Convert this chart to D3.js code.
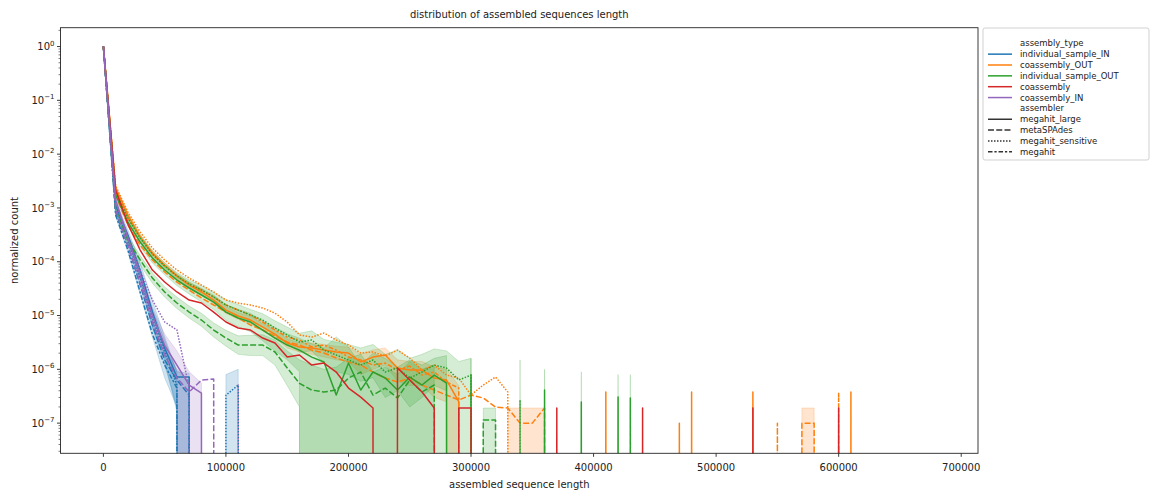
<!DOCTYPE html>
<html>
<head>
<meta charset="utf-8">
<script src="https://cdn.jsdelivr.net/npm/d3@7"></script>
<style>
  body { margin: 0; background: #fff; }
  text { font-family: "DejaVu Sans", sans-serif; fill: #222; }
</style>
</head>
<body>
<svg id="chart" width="1152" height="491"></svg>
<script>
// Length bins (start of each 10 kb bin, in kb)
const binStartKb = [0,10,20,30,40,50,60,70,80,90,100,110,120,130,140,150,160,170,180,190,
  200,210,220,230,240,250,260,270,280,290,300,310,320,330,340,350,360,370,380,390,
  400,410,420,430,440,450,460,470,480,490,500,510,520,530,540,550,560,570,580,590,
  600,610,620,630,640,650,660,670,680,690,700];

const assemblyTypes = ["individual_sample_IN", "coassembly_OUT", "individual_sample_OUT", "coassembly", "coassembly_IN"];
const assemblers = ["megahit_large", "metaSPAdes", "megahit_sensitive", "megahit"];

const xTickValues = [0, 100000, 200000, 300000, 400000, 500000, 600000, 700000];
const yTickExponents = [0, -1, -2, -3, -4, -5, -6, -7];

// normalized counts per bin (0 = no sequences in that bin)
// individual_sample_IN
const blueLarge   = [1, 1.13e-3, 3.13e-4, 7.0e-5, 1.16e-5, 2.49e-6, 7.2e-7, 7.2e-7, 0];
const blueLargeLo = [1, 9.6e-4, 2.5e-4, 5.0e-5, 6.0e-6, 1.5e-6, 1.6e-7, 0, 0];
const blueLargeHi = [1, 1.3e-3, 3.9e-4, 9.5e-5, 1.9e-5, 4.0e-6, 9.0e-7, 8.5e-7, 0];
const blueMeta    = [1, 8.4e-4, 2.0e-4, 3.7e-5, 6.7e-6, 1.5e-6, 6.3e-7, 3.3e-7, 0];
const blueMetaLo  = [1, 7.0e-4, 1.5e-4, 2.5e-5, 4.0e-6, 7.0e-7, 2.0e-7, 0, 0];
const blueMetaHi  = [1, 1.0e-3, 2.6e-4, 5.0e-5, 1.0e-5, 2.5e-6, 1.0e-6, 6.0e-7, 0];
const blueSens    = [1, 1.0e-3, 2.5e-4, 5.0e-5, 9.0e-6, 2.1e-6, 5.1e-7, 0, 0, 0, 3.3e-7, 5.1e-7, 0];
const blueSensLo  = [1, 8.5e-4, 2.0e-4, 3.8e-5, 6.0e-6, 1.2e-6, 2.0e-7, 0, 0, 0, 0, 0, 0];
const blueSensHi  = [1, 1.2e-3, 3.1e-4, 6.5e-5, 1.3e-5, 3.5e-6, 9.0e-7, 0, 0, 0, 8.0e-7, 1.0e-6, 0];
const blueMh      = [1, 7.4e-4, 1.65e-4, 2.7e-5, 4.5e-6, 1.2e-6, 4.5e-7, 0];

// coassembly_OUT
const orangeLarge = [1, 2.34e-3, 7.38e-4, 2.88e-4, 1.45e-4, 8.68e-5, 5.42e-5, 3.69e-5, 2.74e-5, 1.94e-5,
  1.26e-5, 9.79e-6, 8.25e-6, 6.11e-6, 4.53e-6, 3.08e-6, 2.60e-6, 2.49e-6, 2.28e-6, 2.10e-6,
  2.01e-6, 1.37e-6, 1.69e-6, 1.85e-6, 1.06e-6, 9.71e-7, 9.71e-7, 6.89e-7, 6.32e-7, 2.5e-7,
  0, 0, 0, 0, 0, 0, 0, 0, 0, 0,
  0, 3.79e-7, 0, 0, 0, 0, 0, 0, 3.79e-7, 0,
  0, 0, 0, 3.79e-7, 0, 0, 0, 0, 0, 0,
  0, 3.79e-7, 0];
const orangeLargeLo = [1, 2.1e-3, 6.6e-4, 2.6e-4, 1.3e-4, 7.8e-5, 4.8e-5, 3.3e-5, 2.4e-5, 1.7e-5,
  1.1e-5, 8.5e-6, 7.0e-6, 5.2e-6, 3.8e-6, 2.5e-6, 2.1e-6, 1.9e-6, 1.7e-6, 1.5e-6,
  1.4e-6, 8.0e-7, 1.0e-6, 1.2e-6, 6.0e-7, 5.0e-7, 5.0e-7, 3.0e-7, 2.5e-7, 0, 0];
const orangeLargeHi = [1, 2.6e-3, 8.2e-4, 3.2e-4, 1.6e-4, 9.6e-5, 6.0e-5, 4.1e-5, 3.1e-5, 2.2e-5,
  1.45e-5, 1.13e-5, 9.6e-6, 7.1e-6, 5.3e-6, 3.7e-6, 3.1e-6, 3.1e-6, 2.9e-6, 2.7e-6,
  2.6e-6, 1.9e-6, 2.3e-6, 2.5e-6, 1.5e-6, 1.4e-6, 1.4e-6, 1.1e-6, 1.0e-6, 5.0e-7, 0];
const orangeMeta = [1, 1.74e-3, 4.81e-4, 2.04e-4, 1.08e-4, 6.44e-5, 4.19e-5, 2.98e-5, 2.12e-5, 1.57e-5,
  1.16e-5, 8.99e-6, 6.66e-6, 5.38e-6, 4.16e-6, 3.22e-6, 2.83e-6, 2.28e-6, 2.01e-6, 1.62e-6,
  1.37e-6, 1.20e-6, 8.91e-7, 6.89e-7, 5.80e-7, 6.89e-7, 5.11e-7, 4.12e-7, 3.33e-7, 2.69e-7,
  3.33e-7, 2.93e-7, 1.99e-7, 1.91e-7, 1.0e-7, 1.0e-7, 1.91e-7, 0, 0, 0,
  0, 0, 0, 0, 0, 0, 0, 1.0e-7, 0, 0,
  0, 0, 0, 0, 0, 1.0e-7, 0, 1.0e-7, 1.0e-7, 0];
// orange metaSPAdes bands beginning at bin 32 (320 kb) and bin 56 (560 kb)
const orangeMetaBandA = { start: 32, lo: [0, 0, 0, 0, 0, 0], hi: [0, 1.91e-7, 1.91e-7, 1.91e-7, 1.91e-7, 0] };
const orangeMetaBandB = { start: 56, lo: [0, 0, 0, 0], hi: [0, 1.91e-7, 1.91e-7, 0] };
const orangeSens = [1, 2.55e-3, 8.39e-4, 3.56e-4, 1.80e-4, 1.08e-4, 7.01e-5, 4.98e-5, 3.69e-5, 2.74e-5,
  1.94e-5, 1.71e-5, 1.57e-5, 1.38e-5, 1.11e-5, 7.57e-6, 4.34e-6, 3.98e-6, 4.73e-6, 3.51e-6,
  2.83e-6, 2.01e-6, 2.10e-6, 1.77e-6, 2.28e-6, 1.62e-6, 9.71e-7, 1.20e-6, 7.83e-7, 6.89e-7,
  3.33e-7, 5.11e-7, 7.19e-7, 3.79e-7, 0];
const orangeMh = [1, 2.15e-3, 6.49e-4, 2.88e-4, 1.39e-4, 8.32e-5, 5.42e-5, 3.85e-5, 2.98e-5, 2.21e-5,
  1.57e-5, 1.26e-5, 1.02e-5, 7.57e-6, 5.38e-6, 3.98e-6, 3.51e-6, 2.60e-6, 2.83e-6, 2.28e-6,
  1.69e-6, 1.49e-6, 1.20e-6, 1.31e-6, 9.71e-7, 1.15e-6, 7.83e-7, 8.91e-7, 5.80e-7, 4.49e-7,
  0, 0, 0, 0, 0, 0, 0, 0, 0, 0,
  0, 0, 0, 0, 0, 0, 0, 0, 0, 0,
  0, 0, 0, 0, 0, 0, 0, 0, 0, 0,
  3.79e-7, 0];

// individual_sample_OUT
const greenLarge = [1, 1.74e-3, 5.47e-4, 2.32e-4, 1.17e-4, 7.01e-5, 4.57e-5, 3.25e-5, 2.41e-5, 1.78e-5,
  1.16e-5, 8.99e-6, 7.57e-6, 5.38e-6, 3.82e-6, 2.83e-6, 2.28e-6, 1.69e-6, 1.37e-6, 3.33e-7,
  1.31e-6, 4.12e-7, 8.91e-7, 6.89e-7, 4.12e-7, 7.19e-7, 5.11e-7, 7.83e-7, 5.56e-7, 0,
  7.83e-7, 0, 0, 0, 0, 0, 4.12e-7, 0, 0, 2.47e-7,
  0, 0, 3.05e-7, 0];
const greenLargeLo = [1, 1.5e-3, 4.6e-4, 1.9e-4, 9.5e-5, 5.7e-5, 3.6e-5, 2.5e-5, 1.8e-5, 1.3e-5,
  8.2e-6, 6.2e-6, 5.0e-6, 3.4e-6, 2.2e-6, 1.5e-6, 9.0e-7, 0, 0, 0,
  0, 0, 0, 0, 0, 0, 0, 0, 0, 0,
  0, 0, 0, 0, 0, 0, 0, 0, 0, 0,
  0, 0, 0, 0];
const greenLargeHi = [1, 2.0e-3, 6.5e-4, 2.9e-4, 1.45e-4, 8.7e-5, 5.8e-5, 4.2e-5, 3.2e-5, 2.4e-5,
  1.6e-5, 1.3e-5, 1.1e-5, 8.0e-6, 6.0e-6, 4.6e-6, 3.8e-6, 3.0e-6, 2.5e-6, 4.0e-6,
  2.6e-6, 1.2e-6, 2.0e-6, 1.6e-6, 1.1e-6, 1.5e-6, 1.2e-6, 1.6e-6, 1.8e-6, 0,
  1.6e-6, 0, 0, 0, 0, 0, 1.0e-6, 0, 0, 9.0e-7,
  0, 0, 8.0e-7, 0];
const greenMeta = [1, 9.14e-4, 2.53e-4, 1.08e-4, 4.98e-5, 2.74e-5, 1.71e-5, 1.16e-5, 8.25e-6, 5.38e-6,
  3.82e-6, 2.83e-6, 2.83e-6, 2.83e-6, 2.10e-6, 1.06e-6, 5.5e-7, 4.12e-7, 3.79e-7, 4.12e-7,
  6.89e-7, 8.91e-7, 3.33e-7, 4.49e-7, 2.93e-7, 6.32e-7, 3.79e-7, 5.11e-7, 0, 0,
  0, 1.14e-7, 1.14e-7, 0, 0, 0, 0, 0, 0, 0,
  0, 0, 0, 2.93e-7, 0];
const greenMetaLo = [1, 7.8e-4, 2.1e-4, 8.8e-5, 4.0e-5, 2.2e-5, 1.35e-5, 9.0e-6, 6.3e-6, 4.0e-6,
  2.7e-6, 1.9e-6, 1.8e-6, 1.8e-6, 1.2e-6, 5.0e-7, 2.0e-7, 0, 0, 0,
  0, 0, 0, 0, 0, 0, 0, 0, 0, 0,
  0, 0, 0, 0, 0, 0, 0, 0, 0, 0,
  0, 0, 0, 0, 0];
const greenMetaHi = [1, 1.07e-3, 3.0e-4, 1.3e-4, 6.2e-5, 3.4e-5, 2.2e-5, 1.5e-5, 1.1e-5, 7.3e-6,
  5.3e-6, 4.2e-6, 4.3e-6, 4.4e-6, 3.5e-6, 2.2e-6, 1.5e-6, 1.2e-6, 1.0e-6, 1.1e-6,
  1.6e-6, 1.9e-6, 9.0e-7, 1.1e-6, 8.0e-7, 1.4e-6, 1.0e-6, 1.2e-6, 0, 0,
  0, 1.91e-7, 1.91e-7, 0, 0, 0, 0, 0, 0, 0,
  0, 0, 0, 8.0e-7, 0];
const greenSens = [1, 1.98e-3, 6.49e-4, 2.76e-4, 1.39e-4, 8.32e-5, 5.42e-5, 3.85e-5, 2.98e-5, 2.21e-5,
  1.57e-5, 1.26e-5, 1.02e-5, 8.25e-6, 5.86e-6, 4.34e-6, 3.22e-6, 3.51e-6, 2.28e-6, 1.85e-6,
  1.49e-6, 1.20e-6, 1.49e-6, 8.91e-7, 1.06e-6, 6.89e-7, 8.91e-7, 1.20e-6, 1.06e-6, 6.32e-7,
  7.83e-7, 0, 0, 0, 2.69e-7, 0];
const greenSensLo = [1, 1.8e-3, 5.7e-4, 2.4e-4, 1.2e-4, 7.2e-5, 4.6e-5, 3.2e-5, 2.4e-5, 1.8e-5,
  1.25e-5, 9.8e-6, 7.8e-6, 6.2e-6, 4.2e-6, 3.0e-6, 2.1e-6, 2.2e-6, 1.3e-6, 9.0e-7,
  8.0e-7, 6.0e-7, 7.0e-7, 3.0e-7, 4.0e-7, 2.0e-7, 3.0e-7, 5.0e-7, 4.0e-7, 0,
  0, 0, 0, 0, 0, 0];
const greenSensHi = [1, 2.2e-3, 7.4e-4, 3.2e-4, 1.6e-4, 9.6e-5, 6.3e-5, 4.6e-5, 3.6e-5, 2.7e-5,
  1.95e-5, 1.6e-5, 1.3e-5, 1.08e-5, 8.0e-6, 6.1e-6, 4.7e-6, 5.2e-6, 3.6e-6, 3.2e-6,
  2.9e-6, 2.5e-6, 2.9e-6, 1.9e-6, 2.3e-6, 1.6e-6, 1.9e-6, 2.4e-6, 2.2e-6, 1.4e-6,
  1.6e-6, 0, 0, 0, 1.5e-6, 0];

// coassembly
const redLarge = [1, 2.15e-3, 5.0e-4, 1.65e-4, 7.0e-5, 4.2e-5, 2.74e-5, 1.94e-5, 1.71e-5, 1.16e-5,
  7.57e-6, 5.86e-6, 5.38e-6, 3.82e-6, 3.08e-6, 1.69e-6, 1.85e-6, 1.20e-6, 1.31e-6, 8.91e-7,
  4.49e-7, 3.05e-7, 1.91e-7, 0, 1.06e-6, 6.32e-7, 3.79e-7, 1.91e-7, 0, 1.91e-7,
  1.91e-7, 0, 0, 0, 0, 0, 0, 1.91e-7, 0, 0,
  0, 0, 0, 0, 1.91e-7, 0, 0, 0, 0, 0,
  0, 0, 0, 1.91e-7, 0, 0, 0, 0, 0, 0,
  1.91e-7, 0];

// coassembly_IN
const purpleLarge   = [1, 1.40e-3, 2.76e-4, 5.7e-5, 1.0e-5, 2.8e-6, 1.2e-6, 5.1e-7, 3.6e-7, 0];
const purpleLargeLo = [1, 1.2e-3, 2.3e-4, 4.5e-5, 7.5e-6, 1.8e-6, 6.0e-7, 0, 0, 0];
const purpleLargeHi = [1, 1.6e-3, 3.3e-4, 7.0e-5, 1.4e-5, 4.5e-6, 2.2e-6, 9.0e-7, 5.5e-7, 0];
const purpleMeta    = [1, 9.1e-4, 2.0e-4, 4.0e-5, 7.6e-6, 1.85e-6, 6.9e-7, 3.8e-7, 6.3e-7, 6.6e-7, 0];
const purpleSens    = [1, 1.29e-3, 2.76e-4, 7.0e-5, 1.94e-5, 7.6e-6, 5.4e-6, 4.5e-7, 0, 0, 0, 5.1e-7, 0];

// line series, in drawing order (hue outer, style inner)
const series = [
  { type: "individual_sample_IN", asm: "megahit_large", values: blueLarge },
  { type: "individual_sample_IN", asm: "metaSPAdes", values: blueMeta },
  { type: "individual_sample_IN", asm: "megahit_sensitive", values: blueSens },
  { type: "individual_sample_IN", asm: "megahit", values: blueMh },
  { type: "coassembly_OUT", asm: "megahit_large", values: orangeLarge },
  { type: "coassembly_OUT", asm: "metaSPAdes", values: orangeMeta },
  { type: "coassembly_OUT", asm: "megahit_sensitive", values: orangeSens },
  { type: "coassembly_OUT", asm: "megahit", values: orangeMh },
  { type: "individual_sample_OUT", asm: "megahit_large", values: greenLarge },
  { type: "individual_sample_OUT", asm: "metaSPAdes", values: greenMeta },
  { type: "individual_sample_OUT", asm: "megahit_sensitive", values: greenSens },
  { type: "coassembly", asm: "megahit_large", values: redLarge },
  { type: "coassembly_IN", asm: "megahit_large", values: purpleLarge },
  { type: "coassembly_IN", asm: "metaSPAdes", values: purpleMeta },
  { type: "coassembly_IN", asm: "megahit_sensitive", values: purpleSens }
];

// confidence bands
const bands = [
  { type: "individual_sample_IN", start: 0, lo: blueLargeLo, hi: blueLargeHi },
  { type: "individual_sample_IN", start: 0, lo: blueMetaLo, hi: blueMetaHi },
  { type: "individual_sample_IN", start: 0, lo: blueSensLo, hi: blueSensHi },
  { type: "coassembly_OUT", start: 0, lo: orangeLargeLo, hi: orangeLargeHi },
  { type: "coassembly_OUT", start: orangeMetaBandA.start, lo: orangeMetaBandA.lo, hi: orangeMetaBandA.hi },
  { type: "coassembly_OUT", start: orangeMetaBandB.start, lo: orangeMetaBandB.lo, hi: orangeMetaBandB.hi },
  { type: "individual_sample_OUT", start: 0, lo: greenLargeLo, hi: greenLargeHi },
  { type: "individual_sample_OUT", start: 0, lo: greenMetaLo, hi: greenMetaHi },
  { type: "individual_sample_OUT", start: 0, lo: greenSensLo, hi: greenSensHi },
  { type: "coassembly_IN", start: 0, lo: purpleLargeLo, hi: purpleLargeHi }
];

// ---- styling ----
const typeColor = d3.scaleOrdinal()
  .domain(assemblyTypes)
  .range(["#1f77b4", "#ff7f0e", "#2ca02c", "#d62728", "#9467bd"]);
const asmDash = d3.scaleOrdinal()
  .domain(assemblers)
  .range(["none", "6,2.25", "1.5,1.5", "4.5,1.9,2.25,1.9"]);

const plot = { left: 60.5, right: 978, top: 27.7, bottom: 453.3 };
const svg = d3.select("#chart");

const x = d3.scaleLinear().domain([-35000, 713700]).range([plot.left, plot.right]);
const y = d3.scaleLog().domain([2.75e-8, 2.24]).range([plot.bottom, plot.top]);

// empty bins fall far below the axis, like a clipped log of zero
const ZERO_FLOOR = 1e-300;
const yv = v => y(v > 0 ? v : ZERO_FLOOR);
const binX = i => x(binStartKb[i] * 1000);

svg.append("defs").append("clipPath").attr("id", "plotClip")
  .append("rect")
  .attr("x", plot.left).attr("y", plot.top)
  .attr("width", plot.right - plot.left).attr("height", plot.bottom - plot.top);

const plotG = svg.append("g").attr("clip-path", "url(#plotClip)");

// bands (drawn beneath all lines), with a faint edge in the same colour
const area = d3.area()
  .x(d => binX(d.i))
  .y0(d => yv(d.lo))
  .y1(d => yv(d.hi));

bands.forEach(b => {
  const pts = b.lo.map((lo, k) => ({ i: b.start + k, lo: lo, hi: b.hi[k] }));
  plotG.append("path")
    .attr("d", area(pts))
    .attr("fill", typeColor(b.type))
    .attr("fill-opacity", 0.2)
    .attr("stroke", typeColor(b.type))
    .attr("stroke-opacity", 0.2)
    .attr("stroke-width", 1);
});

// lines
const line = d3.line()
  .x(d => binX(d.i))
  .y(d => yv(d.v));

series.forEach(s => {
  const pts = s.values.map((v, i) => ({ i: i, v: v }));
  plotG.append("path")
    .attr("d", line(pts))
    .attr("fill", "none")
    .attr("stroke", typeColor(s.type))
    .attr("stroke-width", 1.5)
    .attr("stroke-linejoin", "round")
    .attr("stroke-dasharray", asmDash(s.asm));
});

// ---- axes ----
const axisColor = "#262626";
const axG = svg.append("g");

// frame
axG.append("rect")
  .attr("x", plot.left).attr("y", plot.top)
  .attr("width", plot.right - plot.left).attr("height", plot.bottom - plot.top)
  .attr("fill", "none").attr("stroke", axisColor).attr("stroke-width", 0.9);

// x ticks
xTickValues.forEach(v => {
  const px = x(v);
  axG.append("line").attr("x1", px).attr("x2", px)
    .attr("y1", plot.bottom).attr("y2", plot.bottom + 3.5)
    .attr("stroke", axisColor).attr("stroke-width", 0.9);
  axG.append("text").attr("x", px).attr("y", plot.bottom + 18)
    .attr("text-anchor", "middle").attr("font-size", 10)
    .text(d3.format("d")(v));
});

// y major ticks with power-of-ten labels
yTickExponents.forEach(e => {
  const py = y(Math.pow(10, e));
  axG.append("line").attr("x1", plot.left - 3.5).attr("x2", plot.left)
    .attr("y1", py).attr("y2", py)
    .attr("stroke", axisColor).attr("stroke-width", 0.9);
  const t = axG.append("text").attr("x", plot.left - 6).attr("y", py + 3.6)
    .attr("text-anchor", "end").attr("font-size", 10);
  t.append("tspan").text("10");
  t.append("tspan").attr("dy", -4.5).attr("font-size", 7)
    .text(e < 0 ? "\u2212" + Math.abs(e) : String(e));
});

// y minor ticks
const [yMin, yMax] = y.domain();
for (let e = -8; e <= 0; e++) {
  for (let k = 2; k <= 9; k++) {
    const v = k * Math.pow(10, e);
    if (v < yMin || v > yMax) continue;
    const py = y(v);
    axG.append("line").attr("x1", plot.left - 2).attr("x2", plot.left)
      .attr("y1", py).attr("y2", py)
      .attr("stroke", axisColor).attr("stroke-width", 0.6);
  }
}

// titles
svg.append("text").attr("x", (plot.left + plot.right) / 2).attr("y", 18)
  .attr("text-anchor", "middle").attr("font-size", 10)
  .text("distribution of assembled sequences length");
svg.append("text").attr("x", (plot.left + plot.right) / 2).attr("y", 488)
  .attr("text-anchor", "middle").attr("font-size", 10)
  .text("assembled sequence length");
svg.append("text")
  .attr("transform", `translate(17.5,${(plot.top + plot.bottom) / 2}) rotate(-90)`)
  .attr("text-anchor", "middle").attr("font-size", 10)
  .text("normalized count");

// ---- legend ----
const legendRows = [{ label: "assembly_type", header: true }]
  .concat(assemblyTypes.map(t => ({ label: t, color: typeColor(t), dash: "none" })))
  .concat([{ label: "assembler", header: true }])
  .concat(assemblers.map(a => ({ label: a, color: "#333333", dash: asmDash(a) })));

const lg = svg.append("g");
lg.append("rect")
  .attr("x", 983).attr("y", 28).attr("width", 166).attr("height", 132)
  .attr("rx", 2).attr("fill", "#fff").attr("fill-opacity", 0.8)
  .attr("stroke", "#cccccc").attr("stroke-width", 0.9);

legendRows.forEach((r, i) => {
  const cy = 43.3 + i * 10.85;
  if (!r.header) {
    lg.append("line").attr("x1", 988).attr("x2", 1012)
      .attr("y1", cy).attr("y2", cy)
      .attr("stroke", r.color).attr("stroke-width", 1.5)
      .attr("stroke-dasharray", r.dash);
  }
  lg.append("text").attr("x", 1020).attr("y", cy + 3)
    .attr("font-size", 8.5).text(r.label);
});
</script>
</body>
</html>
